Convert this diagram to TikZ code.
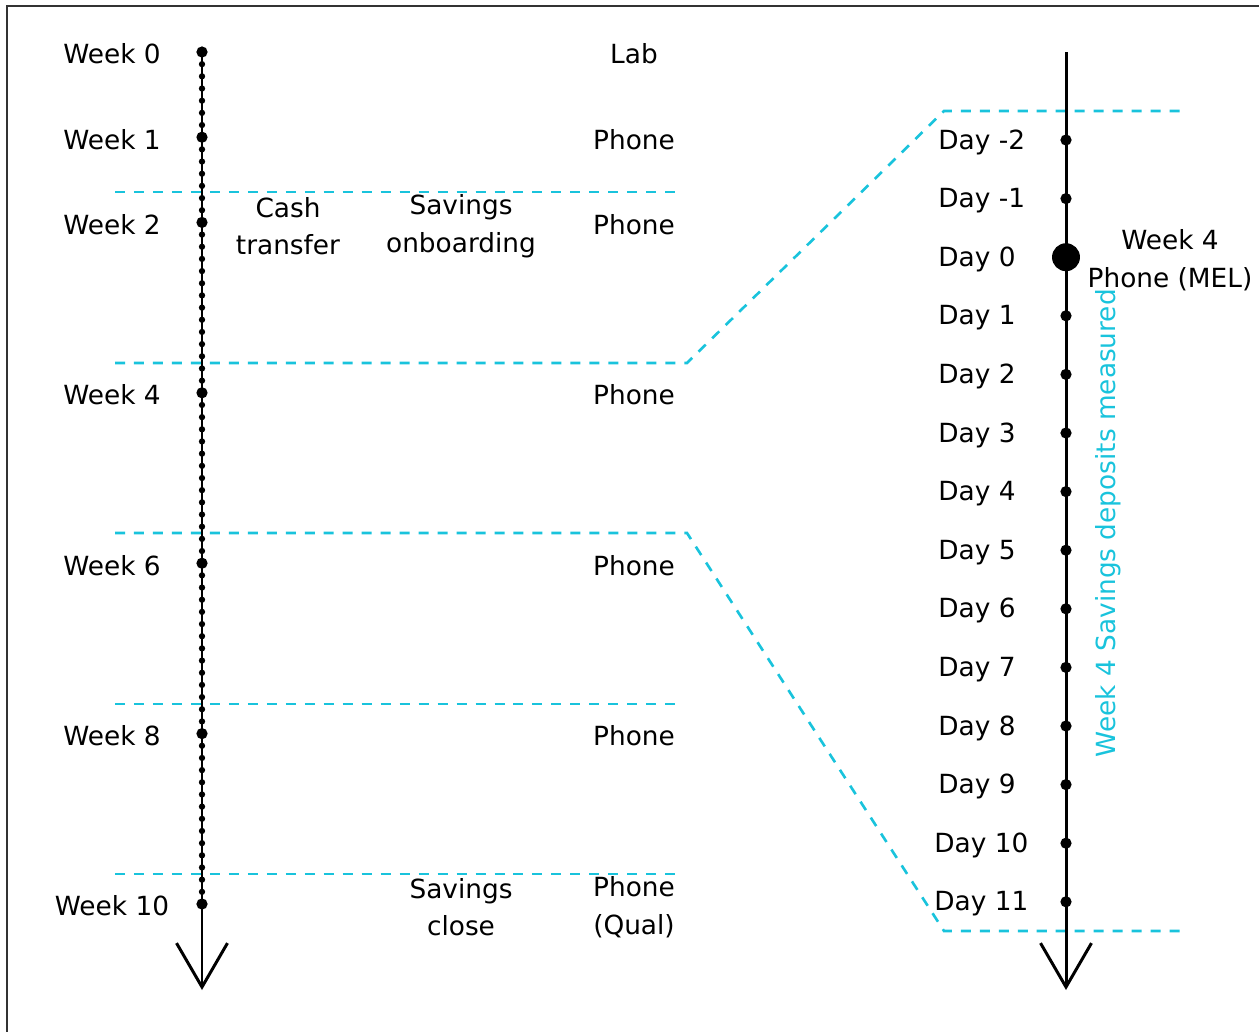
\documentclass[tikz,border=0pt]{standalone}
\usepackage{fontspec}
\setmainfont{DejaVu Sans}
\usetikzlibrary{arrows.meta}
\definecolor{zoomcyan}{RGB}{25,195,220}

\begin{document}
\begin{tikzpicture}[x=0.02cm,y=-0.02cm,
    font=\fontsize{15}{21.5}\selectfont,
    timeline/.style={line width=1.7pt,-{Straight Barb[length=25pt,width=29pt,line width=1.7pt]}},
    zoomline/.style={zoomcyan,line width=1.5pt,dash pattern=on 5.7pt off 5.1pt},
    daydot/.style={circle,fill,inner sep=0pt,minimum size=3.6pt},
    weekdot/.style={circle,fill,inner sep=0pt,minimum size=6.4pt},
    bigdot/.style={circle,fill,inner sep=0pt,minimum size=15.9pt},
    lbl/.style={align=center,inner sep=0pt,yshift=-1.2pt}]
        \useasboundingbox (0,0) rectangle (1259,1032);

        % Frame
        \draw[black!80,line width=0.6pt] (7,1032) -- (7,6) -- (1259,6);

        % Left timeline (weeks)
        \coordinate (ltop) at (202,52);
        \coordinate (ltip) at (202,990);
        \draw[timeline] (ltop) -- (ltip);
        \foreach \d in {0,...,70}
            \node[daydot] (ld\d) at (202,{52+85.2*\d/7}) {}; % Daily dots
        \foreach \w in {0,1,2,4,6,8,10} {
            \node[weekdot] (lw\w) at (202,{52+85.2*\w}) {}; % Week dots
            \node[lbl] (wk\w) at (112,{52+85.2*\w}) {Week \w}; % Week labels
        }

        % Contact type
        \node[lbl] (lab) at (634,52) {Lab};
        \foreach \w in {1,2,4,6,8}
            \node[lbl] (ph\w) at (634,{52+85.2*\w}) {Phone};
        \node[lbl] (ph10) at (634,905) {Phone\\(Qual)};

        % Events
        \node[lbl] (cash) at (288,224) {Cash\\transfer};
        \node[lbl] (onboard) at (461,224) {Savings\\onboarding};
        \node[lbl] (close) at (461,905) {Savings\\close};

        % Dashed separators
        \draw[zoomline] (115,192) -- (677,192);
        \draw[zoomline] (115,704) -- (677,704);
        \draw[zoomline] (115,874) -- (677,874);

        % Zoom onto week 4
        \draw[zoomline] (115,363) -- (687,363) -- (944,111) -- (1180,111);
        \draw[zoomline] (115,533) -- (687,533) -- (944,931) -- (1180,931);

        % Right timeline (days)
        \coordinate (rtop) at (1066,52);
        \coordinate (rtip) at (1066,990);
        \draw[timeline] (rtop) -- (rtip);
        \foreach \d/\lx [count=\i from 0] in {-2/938,-1/938,0/938,1/938,2/938,3/938,4/938,5/938,6/938,7/938,8/938,9/938,10/934,11/934} {
            \node[weekdot] (rd\i) at (1066,{140+58.6*\i}) {}; % Day dots
            \node[lbl,anchor=west] (day\i) at (\lx,{140+58.6*\i}) {Day \d}; % Day labels
        }
        \node[bigdot] (mel) at (rd2) {}; % Day 0
        \node[lbl] (mellbl) at (1170,258) {Week 4\\Phone (MEL)};

        % Measurement window
        \node[lbl,zoomcyan,rotate=90,yshift=1.2pt] (window) at (1110,521) {Week 4 Savings deposits measured};
\end{tikzpicture}
\end{document}
